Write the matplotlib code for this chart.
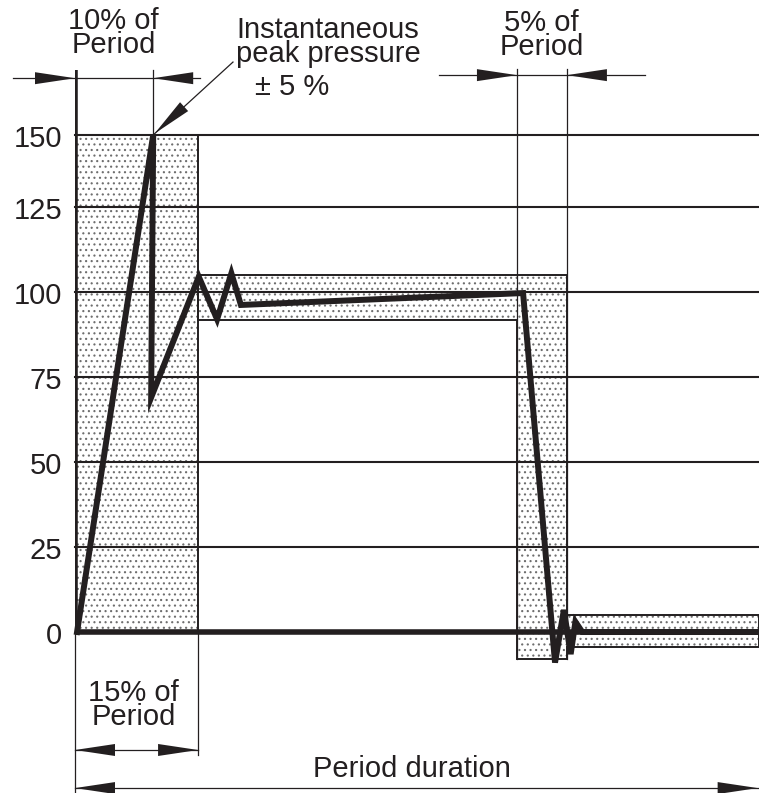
import matplotlib.pyplot as plt
import numpy as np

plt.rcParams['font.family'] = ['Liberation Sans', 'DejaVu Sans']
plt.rcParams['hatch.linewidth'] = 0.8

INK = '#231f20'

# pressure trace (x in % of period duration, y in % pressure as drawn)
time_pct = [0.3, 11.5, 11.2, 18.2, 20.9, 23.0, 24.4, 65.9, 70.6, 71.9, 72.9, 73.6, 74.6, 100.6]
pressure = [0, 146.2, 69.0, 104.5, 92.0, 105.5, 96.2, 99.7, -9.0, 6.5, -6.5, 3.0, 0, 0]

# grid levels and their labels
grid_levels = [0, 25, 50, 75, 100, 125, 146.2]
grid_labels = ['0', '25', '50', '75', '100', '125', '150']

# tolerance zones
rise_x = [0, 18.1, 18.1, 0]
rise_y = [0, 0, 146.2, 146.2]
tol_x = [18.1, 72.35, 72.35, 100.6, 100.6, 72.35, 72.35, 65.0, 65.0, 18.1]
tol_y = [105.0, 105.0, 5.0, 5.0, -4.5, -4.5, -8.0, -8.0, 91.8, 91.8]

# dimension marks
peak_time = 11.5
rise_end = 18.1
fall_start = 65.0
fall_end = 72.35

fig = plt.figure(figsize=(7.59, 7.93), dpi=100)
ax = fig.add_axes([75 / 759, 0, 684 / 759, 1])
ax.set_xlim(0, 100.6)
ax.set_ylim(-47.35, 185.9)
ax.axis('off')

# shaded tolerance zones
for xs, ys in [(rise_x, rise_y), (tol_x, tol_y)]:
    ax.fill(xs, ys, facecolor='white', edgecolor='#6e6e6e', hatch='...', linewidth=0, zorder=1)
    ax.fill(xs, ys, facecolor='none', edgecolor=INK, linewidth=1.4, zorder=3)

# grid lines
for lvl in grid_levels[1:]:
    ax.plot([0, 100.6], [lvl, lvl], color=INK, lw=1.5, zorder=2, clip_on=False)
for lvl, lab in zip(grid_levels, grid_labels):
    ax.text(-1.9, lvl - 3.4, lab, ha='right', va='baseline', fontsize=21, color=INK)

# extension lines
ax.plot([0, 0], [0, -47.4], color=INK, lw=0.9, clip_on=False)
ax.plot([rise_end, rise_end], [0, -36.2], color=INK, lw=0.9)
ax.plot([peak_time, peak_time], [146.2, 165.3], color=INK, lw=0.9, zorder=2)
for xv in [fall_start, fall_end]:
    ax.plot([xv, xv], [-8, 165.6], color=INK, lw=0.9, zorder=2)

# axis and zero line
ax.plot([0, 0], [0, 165.3], color=INK, lw=4, solid_capstyle='butt', zorder=5)
ax.plot([0, 100.6], [0, 0], color=INK, lw=4, solid_capstyle='butt', zorder=5, clip_on=False)

# pressure trace
ax.plot(time_pct, pressure, color=INK, lw=4.3, solid_joinstyle='miter', zorder=6, clip_on=False)


def head(tip, tail, length=40, width=12):
    t = ax.transData.transform(tip)
    s = ax.transData.transform(tail)
    d = (s - t) / np.hypot(*(s - t))
    n = np.array([-d[1], d[0]])
    base = t + d * length
    pts = np.array([t, base + n * width / 2, base - n * width / 2])
    pts = ax.transData.inverted().transform(pts)
    ax.fill(pts[:, 0], pts[:, 1], color=INK, lw=0, zorder=7, clip_on=False)


def dim_line(x0, x1, y, lw=0.9):
    ax.plot([x0, x1], [y, y], color=INK, lw=lw, zorder=2, clip_on=False)


def label(x, y, s, size=21, ha='center'):
    # y is the baseline of the last line
    ax.text(x, y, s, ha=ha, va='baseline', fontsize=size, color=INK,
            linespacing=0.84, multialignment='center')


# 10% of period
y10 = 162.9
dim_line(-9.1, 18.4, y10)
head((0, y10), (-9, y10))
head((peak_time, y10), (18.4, y10))
label(5.7, 170.3, '10% of\nPeriod')

# 5% of period
y5 = 163.8
dim_line(53.5, 83.8, y5)
head((fall_start, y5), (53.5, y5))
head((fall_end, y5), (83.8, y5))
label(68.6, 169.7, '5% of\nPeriod')

# 15% of period
y15 = -34.7
dim_line(0, rise_end, y15)
head((0, y15), (rise_end, y15))
head((rise_end, y15), (0, y15))
label(8.6, -27.4, '15% of\nPeriod')

# period duration
yp = -45.9
dim_line(0, 100.6, yp)
head((0, yp), (100, yp))
head((100.4, yp), (0, yp))
label(49.6, -42.6, 'Period duration')

# peak pressure leader
leader_from = ((233 - 75) / 6.8, (632 - 62) / 3.4)
ax.plot([leader_from[0], peak_time], [leader_from[1], 146.2], color=INK, lw=0.9, zorder=7)
head((peak_time + 0.2, 146.6), leader_from)
label(37.2, 167.6, 'Instantaneous\npeak pressure')
label(26.5, 157.9, '± 5 %', ha='left')

fig.savefig('out.png', dpi=100)
